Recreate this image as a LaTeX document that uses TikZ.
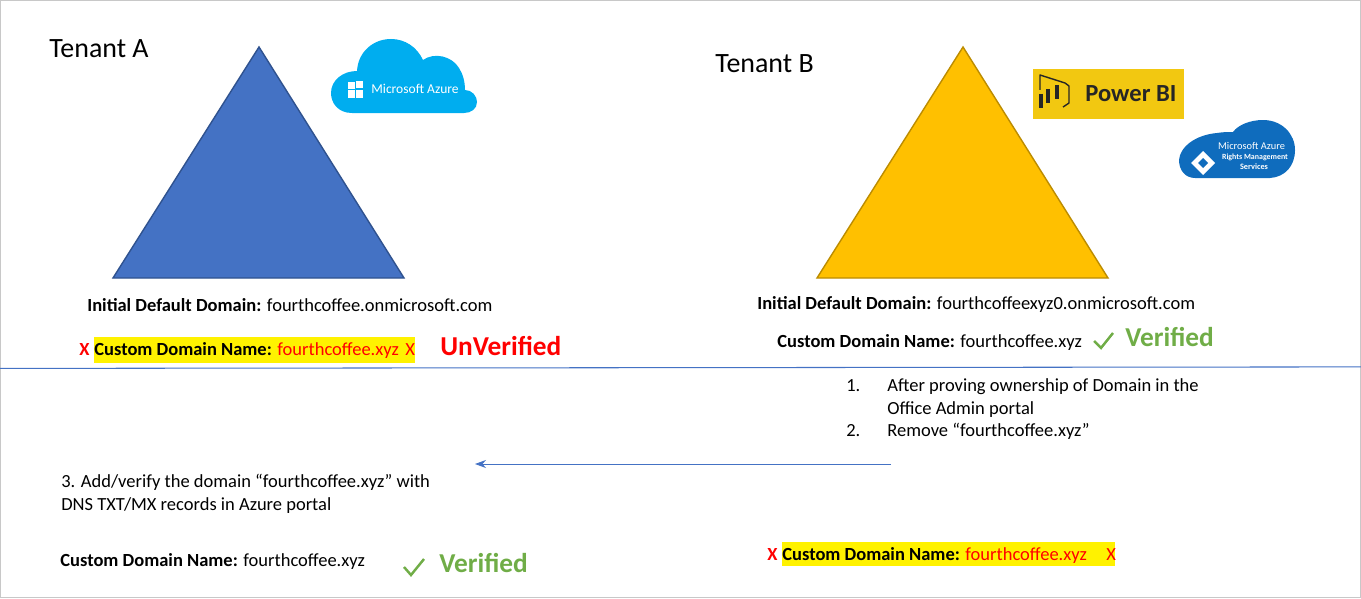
\documentclass[tikz,border=0pt]{standalone}
\usepackage{xcolor}
\usepackage{fontspec}
\setmainfont{Carlito}
\usetikzlibrary{shapes.geometric, arrows.meta, positioning, calc}
\definecolor{tenantblue}{HTML}{4472C4}
\definecolor{tenantblueline}{HTML}{2F528F}
\definecolor{tenantgold}{HTML}{FFC000}
\definecolor{tenantgoldline}{HTML}{BC8C00}
\definecolor{okgreen}{HTML}{70AD47}
\definecolor{azuresky}{HTML}{00ADEF}
\definecolor{rmsblue}{HTML}{0F6CBD}
\definecolor{pbiyellow}{HTML}{F2C811}
\definecolor{framegray}{HTML}{C8C8C8}
\newcommand{\pxfont}[1]{\fontsize{#1}{#1}\selectfont}
\begin{document}
\begin{tikzpicture}[
    x=0.02cm, y=-0.02cm,
    txt/.style={anchor=base west, inner sep=0pt, font=\pxfont{10.53}},
    title/.style={anchor=base west, inner sep=0pt, font=\pxfont{15.9}},
    status/.style={anchor=base west, inner sep=0pt, font=\pxfont{15.55}\bfseries, text=#1},
    mark x/.style={anchor=base west, inner sep=0pt, font=\pxfont{10.53}, text=red},
    hilite/.style={anchor=west, inner sep=0pt, fill=yellow, minimum height=#1},
    tri/.style={shape border rotate=0, line width=0.8pt, line join=miter},
    tick/.style={draw=okgreen, line width=1.4pt},
    rule/.style={draw=tenantblue, line width=0.6pt},
    moveto/.style={-{Stealth[length=2.2mm, width=1.6mm]}, draw=tenantblue, line width=0.5pt}
]
\useasboundingbox (0,0) rectangle (1361,598);
\draw[framegray, line width=0.4pt] (0.5,0.5) rectangle (1360.5,597.5);

\draw[tri, fill=tenantblue, draw=tenantblueline] (259,47) -- (113,278) -- (404,278) -- cycle;
\draw[tri, fill=tenantgold, draw=tenantgoldline] (963,47) -- (817,278) -- (1108,278) -- cycle;

\node[title] (tenanta) at (49,58) {Tenant A};
\node[title] (tenantb) at (715,72) {Tenant B};

\fill[azuresky] (352,113) .. controls (338,113) and (331,103) .. (331,93)
    .. controls (331,80) and (343,71) .. (357,71)
    .. controls (358,52) and (373,39) .. (391,39)
    .. controls (405,39) and (417,47) .. (423,60)
    .. controls (434,52) and (452,56) .. (459,68)
    .. controls (463,74) and (465,82) .. (465,90)
    .. controls (472,90) and (477,96) .. (477,102)
    .. controls (477,109) and (471,113) .. (464,113) -- cycle;
\foreach \wx/\wy in {348/82, 356/81, 348/90.5, 356/90.5}
    \fill[white] (\wx,\wy) rectangle ++(7,7.5);
\node[anchor=base west, inner sep=0pt, font=\pxfont{7.7}, text=white] (azurelabel) at (371,93) {Microsoft Azure};

\fill[pbiyellow] (1033,69) rectangle (1184,119);
\draw[black!85, line width=0.8pt, line join=round] (1040,90) -- (1040,75) -- (1065,83) -- (1069,86) -- (1069,103) -- (1063,107);
\foreach \bx/\btop in {1041/94, 1048/89, 1057/85}
    \draw[black!85, line width=2.2pt] (\bx,\btop) -- (\bx,\btop+14);
\node[anchor=base west, inner sep=0pt, font=\pxfont{14}\bfseries, text=black!85] (pbilabel) at (1085,101) {Power BI};

\fill[rmsblue] (1195,178) .. controls (1185,178) and (1179,170) .. (1179,160)
    .. controls (1180,147) and (1195,135) .. (1217,133)
    .. controls (1223,132) and (1228,132) .. (1233,132)
    .. controls (1238,125) and (1250,120) .. (1263,120)
    .. controls (1282,120) and (1295,134) .. (1295,150)
    .. controls (1295,166) and (1285,177) .. (1270,178) -- cycle;
\fill[white] (1191,163) -- (1203,151) -- (1215,163) -- (1203,175) -- cycle;
\fill[rmsblue] (1198,163) -- (1203,158) -- (1208,163) -- (1203,168) -- cycle;
\node[anchor=base, inner sep=0pt, font=\pxfont{5.9}, text=white] (rmslabela) at (1251.5,149) {Microsoft Azure};
\node[anchor=base, inner sep=0pt, font=\pxfont{4.5}\bfseries, text=white] (rmslabelb) at (1255,159) {Rights Management};
\node[anchor=base, inner sep=0pt, font=\pxfont{4.7}\bfseries, text=white] (rmslabelc) at (1254,169) {Services};

\node[txt] (initiala) at (87,311) {\textbf{Initial Default Domain:} fourthcoffee.onmicrosoft.com};
\node[txt] (initialb) at (757,309) {\textbf{Initial Default Domain:} fourthcoffeexyz0.onmicrosoft.com};

\node[hilite=26*0.02cm, minimum width=321*0.02cm] (hilitea) at (94,350) {};
\node[mark x, font=\pxfont{10.53}\bfseries] (xaleft) at (79,355) {X};
\node[txt] (customa) at (94,355) {\textbf{Custom Domain Name:} \textcolor{red}{fourthcoffee.xyz}};
\node[mark x] (xaright) at (405,355) {X};
\node[status=red] (unverified) at (440,355) {UnVerified};

\node[txt] (customb) at (777,347) {\textbf{Custom Domain Name:} fourthcoffee.xyz};
\draw[tick] (1094,341) -- (1101,348) -- (1113,333);
\node[status=okgreen] (verifiedb) at (1125,346) {Verified};

\coordinate (ruleleft) at (0,368.4);
\coordinate (ruleright) at (1361,366.9);
\draw[rule] (ruleleft) -- (ruleright);

\node[txt] (stepone) at (846,391) {1.};
\node[txt] (steponetext) at (887,391) {After proving ownership of Domain in the};
\node[txt] (steponemore) at (887,414) {Office Admin portal};
\node[txt] (steptwo) at (846,436) {2.};
\node[txt] (steptwotext) at (887,436) {Remove “fourthcoffee.xyz”};

\coordinate (arrowstart) at (891,464);
\coordinate (arrowend) at (475,464);
\draw[moveto] (arrowstart) -- (arrowend);

\node[txt] (stepthree) at (61,487) {3. Add/verify the domain “fourthcoffee.xyz” with};
\node[txt] (stepthreemore) at (61,510) {DNS TXT/MX records in Azure portal};

\node[txt] (customc) at (60,566) {\textbf{Custom Domain Name:} fourthcoffee.xyz};
\draw[tick] (404,567) -- (411,575) -- (424,559);
\node[status=okgreen] (verifiedc) at (439,572) {Verified};

\node[hilite=24*0.02cm, minimum width=333*0.02cm] (hilited) at (782,554) {};
\node[mark x, font=\pxfont{10.53}\bfseries] (xdleft) at (767,560) {X};
\node[txt] (customd) at (782,560) {\textbf{Custom Domain Name:} \textcolor{red}{fourthcoffee.xyz}};
\node[mark x] (xdright) at (1106,560) {X};
\end{tikzpicture}
\end{document}
